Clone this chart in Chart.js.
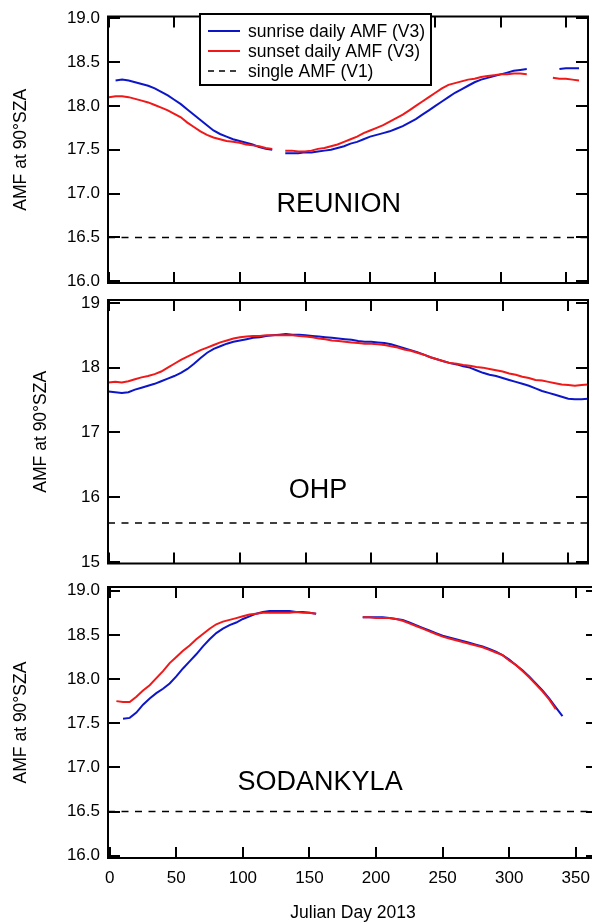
<!DOCTYPE html>
<html>
<head>
<meta charset="utf-8">
<script src="https://cdn.jsdelivr.net/npm/chart.js@4.4.1/dist/chart.umd.min.js"></script>
<style>
  html, body { margin: 0; padding: 0; background: #fff; overflow: hidden; }
  body { width: 592px; height: 924px; position: relative; }
  canvas { position: absolute; left: 0; }
</style>
</head>
<body>
<canvas id="reunion" width="592" height="300" style="top:0"></canvas>
<canvas id="ohp" width="592" height="300" style="top:280px"></canvas>
<canvas id="sodankyla" width="600" height="359" style="top:565px"></canvas>
<script>
// day grid shared by every series (Julian day 2013, every 5 days)
const days = [0,5,10,15,20,25,30,35,40,45,50,55,60,65,70,75,80,85,90,95,100,105,110,115,120,125,130,135,140,145,150,155,160,165,170,175,180,185,190,195,200,205,210,215,220,225,230,235,240,245,250,255,260,265,270,275,280,285,290,295,300,305,310,315,320,325,330,335,340,345,350,355,360,365]

const xTicks = [0,50,100,150,200,250,300,350]
const yTicksHalf = [16,16.5,17,17.5,18,18.5,19]
const yTicksOhp = [15,16,17,18,19]

// REUNION
const reunionRise = [null,18.29,18.30,18.29,18.27,18.25,18.23,18.20,18.16,18.12,18.07,18.02,17.96,17.90,17.84,17.78,17.72,17.68,17.65,17.62,17.60,17.58,17.56,17.53,17.51,17.50,null,17.46,17.46,17.46,17.47,17.47,17.48,17.49,17.50,17.52,17.54,17.57,17.59,17.62,17.65,17.67,17.69,17.71,17.74,17.77,17.81,17.85,17.90,17.95,18.00,18.05,18.10,18.15,18.19,18.23,18.27,18.30,18.32,18.34,18.36,18.38,18.40,18.41,18.42,null,null,null,null,18.42,18.43,18.43,18.43,null]
const reunionSet = [18.10,18.11,18.11,18.10,18.08,18.06,18.04,18.01,17.98,17.95,17.91,17.87,17.81,17.76,17.71,17.67,17.64,17.62,17.60,17.59,17.58,17.56,17.55,17.54,17.52,17.51,null,17.49,17.49,17.48,17.48,17.49,17.51,17.52,17.54,17.56,17.59,17.62,17.65,17.69,17.72,17.75,17.78,17.82,17.86,17.90,17.95,18.00,18.05,18.10,18.15,18.20,18.24,18.26,18.28,18.30,18.31,18.33,18.34,18.35,18.36,18.36,18.37,18.37,18.36,null,null,null,18.32,18.31,18.31,18.30,18.29,null]
const reunionSingle = 16.5

// OHP
const ohpRise = [17.63,17.62,17.61,17.62,17.66,17.69,17.72,17.75,17.79,17.83,17.87,17.92,17.98,18.06,18.15,18.23,18.29,18.33,18.37,18.40,18.42,18.44,18.46,18.47,18.49,18.50,18.51,18.52,18.51,18.51,18.50,18.49,18.48,18.47,18.46,18.45,18.44,18.43,18.41,18.40,18.40,18.39,18.38,18.36,18.33,18.30,18.27,18.24,18.20,18.16,18.13,18.10,18.07,18.05,18.02,18.00,17.96,17.92,17.89,17.87,17.84,17.81,17.78,17.75,17.72,17.68,17.64,17.61,17.58,17.55,17.52,17.51,17.51,17.52]
const ohpSet = [17.77,17.78,17.77,17.79,17.82,17.85,17.87,17.90,17.94,18.00,18.06,18.12,18.17,18.22,18.27,18.31,18.35,18.39,18.42,18.45,18.47,18.48,18.49,18.49,18.50,18.50,18.50,18.50,18.50,18.49,18.48,18.47,18.45,18.44,18.42,18.41,18.40,18.39,18.38,18.37,18.37,18.36,18.35,18.33,18.31,18.28,18.26,18.23,18.20,18.16,18.13,18.10,18.07,18.06,18.04,18.03,18.01,18.00,17.98,17.96,17.94,17.91,17.89,17.86,17.84,17.81,17.80,17.78,17.76,17.74,17.73,17.72,17.73,17.74]
const ohpSingle = 15.6

// SODANKYLA
const sodRise = [null,null,17.55,17.56,17.62,17.71,17.78,17.84,17.89,17.95,18.03,18.12,18.20,18.28,18.37,18.45,18.52,18.57,18.61,18.64,18.68,18.71,18.74,18.76,18.77,18.77,18.77,18.77,18.76,18.76,18.75,18.74,null,null,null,null,null,null,18.70,18.70,18.70,18.70,18.69,18.68,18.67,18.64,18.61,18.58,18.55,18.52,18.49,18.47,18.45,18.43,18.41,18.39,18.37,18.34,18.31,18.27,18.22,18.16,18.10,18.03,17.95,17.87,17.78,17.68,17.58,null,null,null,null,null]
const sodSet = [null,17.75,17.74,17.74,17.80,17.87,17.93,18.01,18.09,18.18,18.25,18.32,18.38,18.45,18.51,18.57,18.62,18.65,18.67,18.69,18.71,18.73,18.74,18.75,18.75,18.75,18.75,18.75,18.76,18.75,18.75,18.74,null,null,null,null,null,null,18.70,18.70,18.69,18.69,18.69,18.68,18.66,18.63,18.60,18.57,18.54,18.51,18.48,18.46,18.44,18.42,18.40,18.38,18.36,18.33,18.30,18.27,18.21,18.16,18.09,18.02,17.94,17.86,17.77,17.66,null,null,null,null,null,null]
const sodSingle = 16.5

const BLUE = "#0c16c8"
const RED = "#f01818"
const FONT = '"Liberation Sans", Arial, sans-serif'

const legendItems = [
  { text: "sunrise daily AMF (V3)", color: BLUE, dash: [] },
  { text: "sunset daily AMF (V3)", color: RED, dash: [] },
  { text: "single AMF (V1)", color: "#000", dash: [6, 5] }
]

// frame, inward ticks, station name and (optionally) legend
const framePlugin = {
  id: "frame",
  afterDraw(chart, args, opts) {
    const { ctx, chartArea: a } = chart
    const x = chart.scales.x, y = chart.scales.y
    ctx.save()
    ctx.strokeStyle = "#000"
    ctx.lineWidth = 2
    ctx.setLineDash([])
    ctx.beginPath()
    opts.xTicks.forEach(v => {
      const px = Math.round(x.getPixelForValue(v))
      ctx.moveTo(px, a.top); ctx.lineTo(px, a.top + 11)
      ctx.moveTo(px, a.bottom); ctx.lineTo(px, a.bottom - 11)
    })
    opts.yTicks.forEach(v => {
      const py = Math.round(y.getPixelForValue(v))
      ctx.moveTo(a.left, py); ctx.lineTo(a.left + 12, py)
      ctx.moveTo(a.right, py); ctx.lineTo(a.right - 12, py)
    })
    ctx.stroke()
    ctx.strokeRect(a.left, a.top, a.right - a.left, a.bottom - a.top)

    ctx.fillStyle = "#000"
    ctx.font = "27px " + FONT
    ctx.textAlign = "center"
    ctx.textBaseline = "middle"
    ctx.fillText(opts.station, x.getPixelForValue(opts.stationAt[0]), y.getPixelForValue(opts.stationAt[1]))

    if (opts.legend) {
      const L = opts.legend
      ctx.fillStyle = "#fff"
      ctx.fillRect(L.x, L.y, L.w, L.h)
      ctx.strokeRect(L.x, L.y, L.w, L.h)
      ctx.font = "17.5px " + FONT
      ctx.textAlign = "left"
      legendItems.forEach((it, i) => {
        const ly = L.y + 17 + i * 20
        ctx.strokeStyle = it.color
        ctx.lineWidth = it.dash.length ? 1.5 : 2
        ctx.setLineDash(it.dash)
        ctx.beginPath()
        ctx.moveTo(L.x + 8, ly); ctx.lineTo(L.x + 40, ly)
        ctx.stroke()
        ctx.setLineDash([])
        ctx.fillStyle = "#000"
        ctx.fillText(it.text, L.x + 48, ly + 1)
      })
    }
    ctx.restore()
  }
}

function series(vals) {
  return days.map((d, i) => ({ x: d, y: vals[i] }))
}

function makePanel(id, cfg) {
  const xScale = {
    type: "linear",
    min: cfg.xMin,
    max: cfg.xMax,
    display: cfg.showX,
    grid: { display: false, drawTicks: false },
    border: { display: false },
    afterBuildTicks: s => { s.ticks = xTicks.map(v => ({ value: v })) },
    ticks: { color: "#000", padding: 10, font: { family: FONT, size: 17 }, maxRotation: 0 },
    title: { display: cfg.showX, text: "Julian Day 2013", color: "#000", font: { family: FONT, size: 17.5 }, padding: { top: 0, bottom: 0 } }
  }
  if (cfg.showX) xScale.afterFit = s => { s.height = cfg.xAxisHeight }

  return new Chart(document.getElementById(id), {
    type: "line",
    data: {
      datasets: [
        { label: "sunrise daily AMF (V3)", data: series(cfg.rise), borderColor: BLUE, order: 1 },
        { label: "sunset daily AMF (V3)", data: series(cfg.set), borderColor: RED, order: 0 },
        {
          label: "single AMF (V1)",
          data: [{ x: cfg.xMin, y: cfg.single }, { x: cfg.xMax, y: cfg.single }],
          borderColor: "#000", borderWidth: 1.5, borderDash: [7, 6.5], order: 2
        }
      ]
    },
    options: {
      responsive: false,
      animation: false,
      parsing: false,
      spanGaps: false,
      layout: { padding: cfg.padding },
      elements: { point: { radius: 0 }, line: { borderWidth: 2, tension: 0 } },
      plugins: {
        legend: { display: false },
        tooltip: { enabled: false },
        frame: { xTicks, yTicks: cfg.yTicks, station: cfg.station, stationAt: cfg.stationAt, legend: cfg.legend }
      },
      scales: {
        x: xScale,
        y: {
          min: cfg.yMin,
          max: cfg.yMax,
          grid: { display: false, drawTicks: false },
          border: { display: false },
          afterBuildTicks: s => { s.ticks = cfg.yTicks.map(v => ({ value: v })) },
          afterFit: s => { s.width = 108 },
          ticks: { color: "#000", padding: 8, font: { family: FONT, size: 17, lineHeight: 1 }, callback: cfg.yFmt },
          title: { display: true, text: "AMF at 90°SZA", color: "#000", font: { family: FONT, size: 17.5 }, padding: { top: cfg.titlePad, bottom: 0 } }
        }
      }
    },
    plugins: [framePlugin]
  })
}

makePanel("reunion", {
  rise: reunionRise, set: reunionSet, single: reunionSingle,
  xMin: -0.8, xMax: 366.9, yMin: 15.98, yMax: 19.02,
  yTicks: yTicksHalf, yFmt: v => v.toFixed(1),
  padding: { top: 14, bottom: 17, left: 0, right: 4 },
  showX: false, titlePad: 11,
  station: "REUNION", stationAt: [176, 16.87],
  legend: { x: 200, y: 14, w: 231, h: 71 }
})

makePanel("ohp", {
  rise: ohpRise, set: ohpSet, single: ohpSingle,
  xMin: -0.5, xMax: 365, yMin: 14.974, yMax: 19.045,
  yTicks: yTicksOhp, yFmt: v => v.toFixed(0),
  padding: { top: 20, bottom: 10, left: 0, right: 4 },
  showX: false, titlePad: 31,
  station: "OHP", stationAt: [159.4, 16.1]
})

makePanel("sodankyla", {
  rise: sodRise, set: sodSet, single: sodSingle,
  xMin: -1.3, xMax: 366.7, yMin: 15.974, yMax: 19.042,
  yTicks: yTicksHalf, yFmt: v => v.toFixed(1),
  padding: { top: 22, bottom: 0, left: 0, right: 1 },
  showX: true, xAxisHeight: 66, titlePad: 11,
  station: "SODANKYLA", stationAt: [158, 16.83]
})
</script>
</body>
</html>
